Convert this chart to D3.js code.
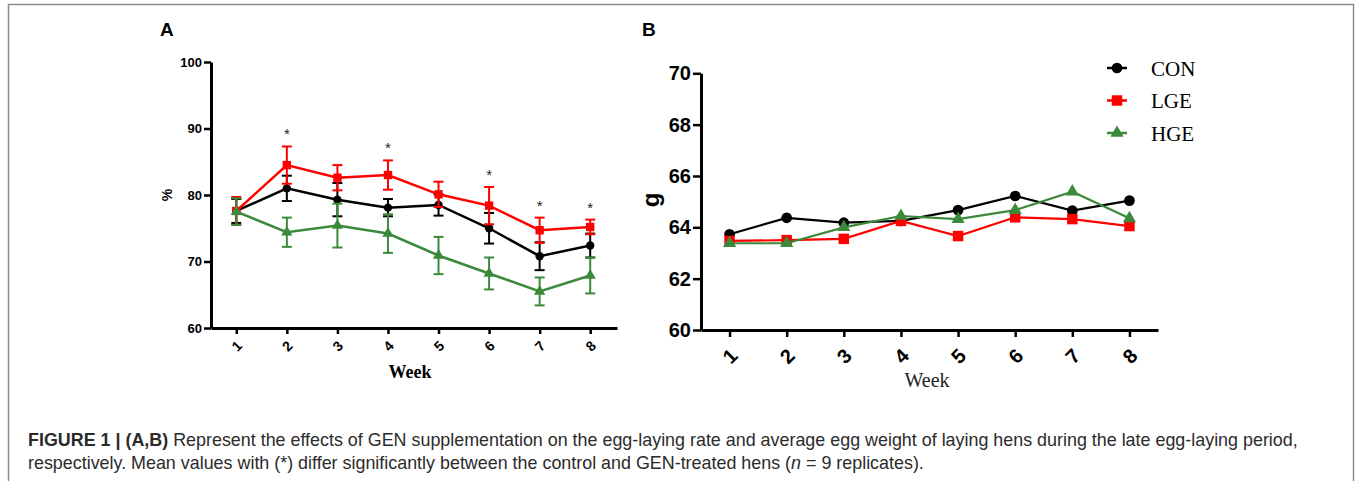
<!DOCTYPE html>
<html>
<head>
<meta charset="utf-8">
<script src="https://cdn.jsdelivr.net/npm/d3@7"></script>
<style>
  body { margin: 0; background: #fff; }
  svg { display: block; }
</style>
</head>
<body>
<div id="chart"></div>
<script>
const weeks = [1, 2, 3, 4, 5, 6, 7, 8];
const groups = ["CON", "LGE", "HGE"];

// A: egg-laying rate (%), mean and error
const rateCON = [77.6, 81.0, 79.3, 78.1, 78.5, 75.0, 70.8, 72.4];
const rateCONErr = [1.8, 1.9, 2.5, 1.3, 1.6, 2.3, 2.1, 1.8];
const rateLGE = [77.6, 84.5, 82.6, 83.0, 80.1, 78.4, 74.7, 75.2];
const rateLGEErr = [2.1, 2.8, 1.9, 2.2, 1.9, 2.8, 1.9, 1.1];
const rateHGE = [77.5, 74.4, 75.4, 74.2, 70.9, 68.2, 65.5, 67.9];
const rateHGEErr = [2.0, 2.2, 3.3, 2.9, 2.8, 2.4, 2.1, 2.7];
const sigWeeks = [2, 4, 6, 7, 8];
const rateTicks = [60, 70, 80, 90, 100];

// B: average egg weight (g)
const weightCON = [63.73, 64.37, 64.18, 64.25, 64.67, 65.22, 64.65, 65.04];
const weightLGE = [63.47, 63.50, 63.55, 64.25, 63.66, 64.39, 64.32, 64.05];
const weightHGE = [63.38, 63.38, 64.00, 64.44, 64.32, 64.67, 65.39, 64.35];
const weightTicks = [60, 62, 64, 66, 68, 70];

const colors = { CON: "#000000", LGE: "#ff0000", HGE: "#3b8a3b" };
const shapes = { CON: d3.symbolCircle, LGE: d3.symbolSquare, HGE: d3.symbolTriangle };

const width = 1357;
const height = 481;
const sans = "'Liberation Sans', Arial, Helvetica, sans-serif";
const serif = "'Liberation Serif', 'Times New Roman', serif";

const svg = d3.select("#chart")
  .append("svg")
  .attr("width", width)
  .attr("height", height);

// figure frame
svg.append("rect")
  .attr("x", 8.5).attr("y", 4.5)
  .attr("width", 1345).attr("height", 500)
  .attr("fill", "none")
  .attr("stroke", "#8c8c8c")
  .attr("stroke-width", 1.5);

// ---------- panel A ----------
const xA = d3.scaleLinear().domain([0.5, 8.53]).range([211, 617]);
const yA = d3.scaleLinear().domain([60, 100]).range([328, 62]);

const axA = svg.append("g")
  .attr("transform", `translate(0, ${yA(60)})`)
  .call(d3.axisBottom(xA).tickValues(weeks).tickSize(6).tickSizeOuter(0));
axA.selectAll("text")
  .attr("y", 0).attr("dy", "0.35em")
  .attr("transform", "translate(0, 18) rotate(-45)")
  .style("text-anchor", "middle");

const ayA = svg.append("g")
  .attr("transform", `translate(${xA(0.5)}, 0)`)
  .call(d3.axisLeft(yA).tickValues(rateTicks).tickSize(7).tickPadding(2).tickSizeOuter(0));

[axA, ayA].forEach(g => {
  g.select(".domain").attr("stroke-width", 3);
  g.selectAll(".tick line").attr("stroke-width", 2.5);
  g.selectAll("text")
    .attr("font-family", sans)
    .attr("font-weight", "bold")
    .attr("font-size", 13)
    .attr("fill", "#000");
});
axA.selectAll("text").attr("font-size", 14);

const rateSeries = [
  { key: "CON", mean: rateCON, err: rateCONErr },
  { key: "LGE", mean: rateLGE, err: rateLGEErr },
  { key: "HGE", mean: rateHGE, err: rateHGEErr }
];

const lineA = d3.line()
  .x((d, i) => xA(weeks[i]))
  .y(d => yA(d));

rateSeries.forEach(s => {
  const g = svg.append("g");
  const c = colors[s.key];
  weeks.forEach((w, i) => {
    const lo = yA(s.mean[i] - s.err[i]);
    const hi = yA(s.mean[i] + s.err[i]);
    g.append("line")
      .attr("x1", xA(w)).attr("x2", xA(w))
      .attr("y1", lo).attr("y2", hi)
      .attr("stroke", c).attr("stroke-width", 2);
    [lo, hi].forEach(yy => {
      g.append("line")
        .attr("x1", xA(w) - 5).attr("x2", xA(w) + 5)
        .attr("y1", yy).attr("y2", yy)
        .attr("stroke", c).attr("stroke-width", 2);
    });
  });
  g.append("path")
    .datum(s.mean)
    .attr("fill", "none")
    .attr("stroke", c)
    .attr("stroke-width", 2.5)
    .attr("d", lineA);
  g.selectAll(".pt")
    .data(s.mean)
    .join("path")
    .attr("transform", (d, i) => `translate(${xA(weeks[i])}, ${yA(d)})`)
    .attr("d", d3.symbol().type(shapes[s.key]).size(s.key === "CON" ? 55 : s.key === "LGE" ? 70 : 55))
    .attr("fill", c);
});

// significance marks
sigWeeks.forEach(w => {
  const i = weeks.indexOf(w);
  const top = d3.max(rateSeries, s => s.mean[i] + s.err[i]);
  svg.append("text")
    .attr("x", xA(w))
    .attr("y", yA(top) - 7)
    .attr("text-anchor", "middle")
    .attr("font-family", sans)
    .attr("font-size", 15)
    .attr("fill", "#222")
    .text("*");
});

svg.append("text")
  .attr("x", 410).attr("y", 378)
  .attr("text-anchor", "middle")
  .attr("font-family", serif)
  .attr("font-weight", "bold")
  .attr("font-size", 18)
  .text("Week");

svg.append("text")
  .attr("transform", "translate(172, 195) rotate(-90)")
  .attr("text-anchor", "middle")
  .attr("font-family", sans)
  .attr("font-weight", "bold")
  .attr("font-size", 14)
  .text("%");

svg.append("text")
  .attr("x", 160).attr("y", 36)
  .attr("font-family", sans)
  .attr("font-weight", "bold")
  .attr("font-size", 19)
  .text("A");

// ---------- panel B ----------
const xB = d3.scaleLinear().domain([0.5, 8.5]).range([701, 1158]);
const yB = d3.scaleLinear().domain([60, 70]).range([330, 73.3]);

const axB = svg.append("g")
  .attr("transform", `translate(0, ${yB(60)})`)
  .call(d3.axisBottom(xB).tickValues(weeks).tickSize(7).tickSizeOuter(0));
axB.selectAll("text")
  .attr("y", 0).attr("dy", "0.35em")
  .attr("transform", "translate(0, 26) rotate(-45)")
  .style("text-anchor", "middle");

const ayB = svg.append("g")
  .attr("transform", `translate(${xB(0.5)}, 0)`)
  .call(d3.axisLeft(yB).tickValues(weightTicks).tickSize(8).tickPadding(2).tickSizeOuter(0));

[axB, ayB].forEach(g => {
  g.select(".domain").attr("stroke-width", 3);
  g.selectAll(".tick line").attr("stroke-width", 2.5);
  g.selectAll("text")
    .attr("font-family", sans)
    .attr("font-weight", "bold")
    .attr("font-size", 20)
    .attr("fill", "#000");
});

const weightSeries = [
  { key: "CON", mean: weightCON },
  { key: "LGE", mean: weightLGE },
  { key: "HGE", mean: weightHGE }
];

const lineB = d3.line()
  .x((d, i) => xB(weeks[i]))
  .y(d => yB(d));

const symSizeB = { CON: 90, LGE: 110, HGE: 75 };

weightSeries.forEach(s => {
  const c = colors[s.key];
  svg.append("path")
    .datum(s.mean)
    .attr("fill", "none")
    .attr("stroke", c)
    .attr("stroke-width", 2.2)
    .attr("d", lineB);
  svg.append("g").selectAll("path")
    .data(s.mean)
    .join("path")
    .attr("transform", (d, i) => `translate(${xB(weeks[i])}, ${yB(d)})`)
    .attr("d", d3.symbol().type(shapes[s.key]).size(symSizeB[s.key]))
    .attr("fill", c);
});

// legend
const legend = svg.append("g").attr("transform", "translate(1107, 68)");
groups.forEach((k, i) => {
  const row = legend.append("g").attr("transform", `translate(0, ${i * 32.5})`);
  row.append("line")
    .attr("x1", 0).attr("x2", 20)
    .attr("stroke", colors[k]).attr("stroke-width", 2.5);
  row.append("path")
    .attr("transform", "translate(10, 0)")
    .attr("d", d3.symbol().type(shapes[k]).size(symSizeB[k]))
    .attr("fill", colors[k]);
  row.append("text")
    .attr("x", 44).attr("y", 7.5)
    .attr("font-family", serif)
    .attr("font-size", 21)
    .text(k);
});

svg.append("text")
  .attr("x", 927).attr("y", 387)
  .attr("text-anchor", "middle")
  .attr("font-family", serif)
  .attr("font-size", 20)
  .attr("fill", "#222")
  .text("Week");

svg.append("text")
  .attr("transform", "translate(659, 200) rotate(-90)")
  .attr("text-anchor", "middle")
  .attr("font-family", sans)
  .attr("font-weight", "bold")
  .attr("font-size", 24)
  .text("g");

svg.append("text")
  .attr("x", 642).attr("y", 36)
  .attr("font-family", sans)
  .attr("font-weight", "bold")
  .attr("font-size", 19)
  .text("B");

// ---------- caption ----------
const cap1 = svg.append("text")
  .attr("x", 28).attr("y", 446)
  .attr("font-family", sans)
  .attr("font-size", 17.9)
  .attr("fill", "#2b2b2b");
cap1.append("tspan").attr("font-weight", "bold").text("FIGURE 1 | (A,B)");
cap1.append("tspan").text(" Represent the effects of GEN supplementation on the egg-laying rate and average egg weight of laying hens during the late egg-laying period,");

const cap2 = svg.append("text")
  .attr("x", 28).attr("y", 469)
  .attr("font-family", sans)
  .attr("font-size", 17.9)
  .attr("fill", "#2b2b2b");
cap2.append("tspan").text("respectively. Mean values with (*) differ significantly between the control and GEN-treated hens (");
cap2.append("tspan").attr("font-style", "italic").text("n");
cap2.append("tspan").text(" = 9 replicates).");
</script>
</body>
</html>
